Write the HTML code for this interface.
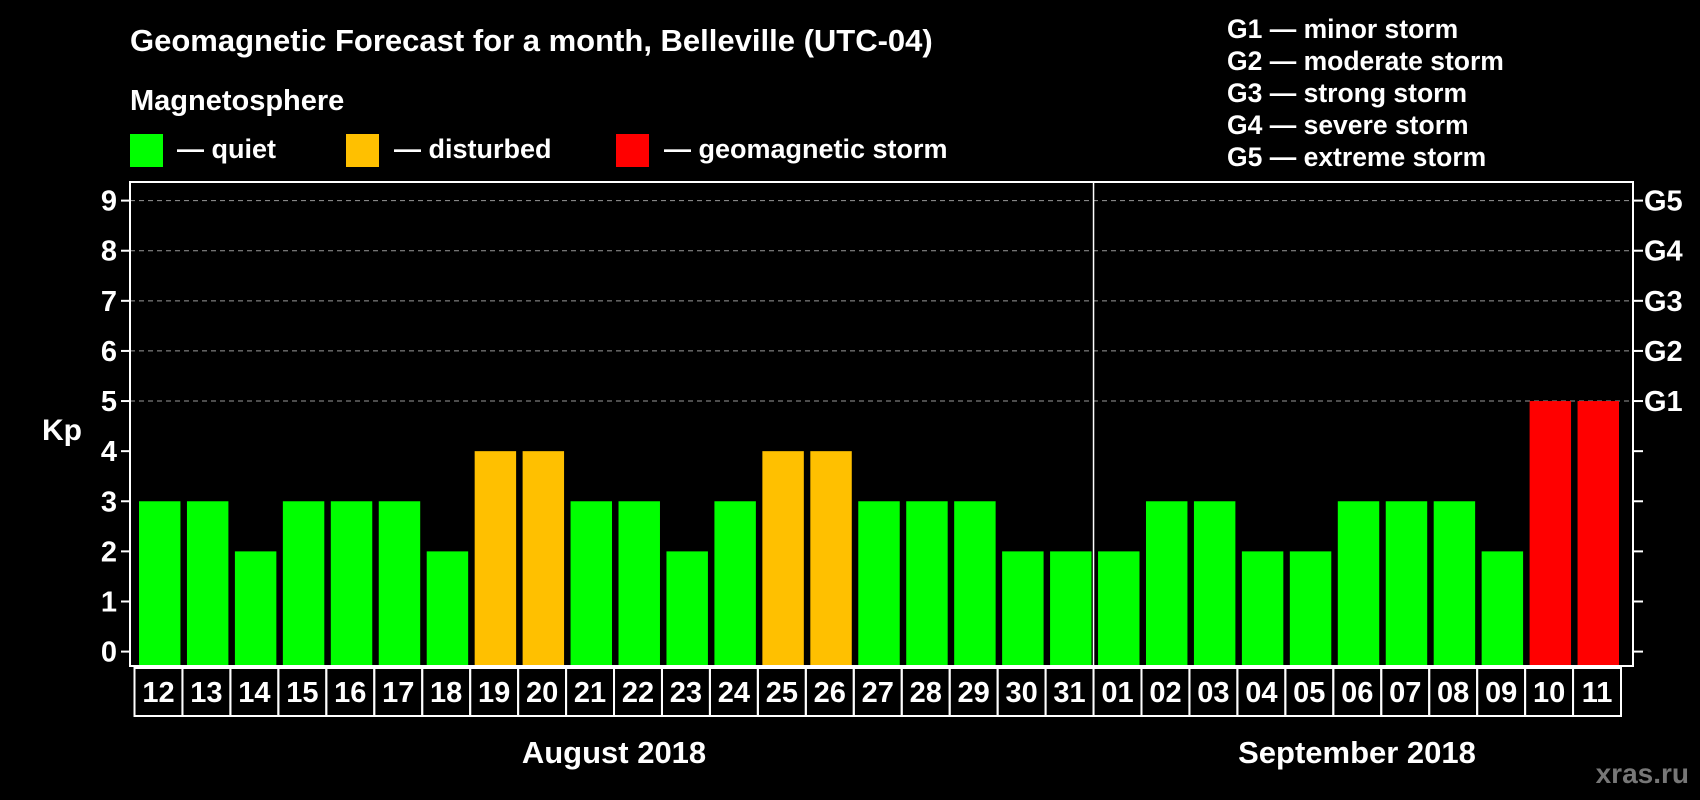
<!DOCTYPE html>
<html><head><meta charset="utf-8"><style>
html,body{margin:0;padding:0;background:#000;}
svg{display:block;font-family:"Liberation Sans",Arial,sans-serif;font-weight:bold;}
</style></head><body>
<svg id="chart" width="1700" height="800" viewBox="0 0 1700 800">
<rect x="0" y="0" width="1700" height="800" fill="#000"/>
<text x="130" y="51" font-size="31" fill="#fff">Geomagnetic Forecast for a month, Belleville (UTC-04)</text>
<text x="130" y="110" font-size="29" fill="#fff">Magnetosphere</text>
<g>
<rect x="130" y="134" width="33" height="33" fill="#00ff00"/>
<text x="177" y="158" font-size="27" fill="#fff">— quiet</text></g>
<g>
<rect x="346" y="134" width="33" height="33" fill="#ffc000"/>
<text x="394" y="158" font-size="27" fill="#fff">— disturbed</text></g>
<g>
<rect x="616" y="134" width="33" height="33" fill="#ff0000"/>
<text x="664" y="158" font-size="27" fill="#fff">— geomagnetic storm</text></g>
<g font-size="26.5" fill="#fff">
<text x="1227" y="38">G1 — minor storm</text>
<text x="1227" y="70">G2 — moderate storm</text>
<text x="1227" y="102">G3 — strong storm</text>
<text x="1227" y="134">G4 — severe storm</text>
<text x="1227" y="166">G5 — extreme storm</text>
</g>
<g id="plot"></g>
<text x="614" y="763" font-size="31" fill="#fff" text-anchor="middle">August 2018</text>
<text x="1357" y="763" font-size="31" fill="#fff" text-anchor="middle">September 2018</text>
<text x="1689" y="783" font-size="28" fill="#777" text-anchor="end">xras.ru</text>
</svg>
<script>
const days = ["12","13","14","15","16","17","18","19","20","21","22","23","24","25","26","27","28","29","30","31","01","02","03","04","05","06","07","08","09","10","11"];
const kpValues = [3,3,2,3,3,3,2,4,4,3,3,2,3,4,4,3,3,3,2,2,2,3,3,2,2,3,3,3,2,5,5];
const yTicks = [0,1,2,3,4,5,6,7,8,9];
const gLabels = ["G1","G2","G3","G4","G5"];
const gLevels = [5,6,7,8,9];

const NS="http://www.w3.org/2000/svg";
const g=document.getElementById('plot');
const L=130,R=1633,T=182,B=666;
const X0=134.5,X1=1621;
const slot=(X1-X0)/days.length;
function y(v){return 651.6-v*(651.6-200.6)/9;}
function x(i){return X0+i*slot;}
function mk(tag,attrs){const e=document.createElementNS(NS,tag);for(const k in attrs)e.setAttribute(k,attrs[k]);g.appendChild(e);return e;}
function color(v){return v>=5?"#ff0000":(v>=4?"#ffc000":"#00ff00");}

gLevels.forEach(v=>{
  const ln=mk('line',{x1:L,x2:R,y1:y(v),y2:y(v),stroke:'#999','stroke-width':1,'stroke-dasharray':'5,4'});
  
  
});
kpValues.forEach((v,i)=>{
  const r=mk('rect',{x:x(i)+4.5,y:y(v),width:slot-6.5,height:B-1-y(v),fill:color(v)});
  
  
});
const fr=mk('rect',{x:L,y:T,width:R-L,height:B-T,fill:'none',stroke:'#fff','stroke-width':2});


const sep=mk('line',{x1:x(20),x2:x(20),y1:T,y2:B,stroke:'#fff','stroke-width':1.5});


yTicks.forEach(v=>{
  mk('line',{x1:L-9,x2:L,y1:y(v),y2:y(v),stroke:'#fff','stroke-width':2});
  mk('line',{x1:R,x2:R+10,y1:y(v),y2:y(v),stroke:'#fff','stroke-width':2});
  const t=mk('text',{x:117,y:y(v)+10,'font-size':29,fill:'#fff','text-anchor':'end'});
  t.textContent=v;
  
  
});
gLabels.forEach((s,i)=>{
  const t=mk('text',{x:1644,y:y(gLevels[i])+10,'font-size':29,fill:'#fff'});
  t.textContent=s;
  
  
});
const kp=mk('text',{x:42,y:440,'font-size':30,fill:'#fff'});
kp.textContent='Kp';


days.forEach((d,i)=>{
  const bx=mk('rect',{x:x(i),y:668,width:slot,height:48,fill:'none',stroke:'#fff','stroke-width':2});
  
  
  const t=mk('text',{x:x(i)+slot/2,y:702,'font-size':29,fill:'#fff','text-anchor':'middle'});
  t.textContent=d;
  
  
});
</script>
</body></html>
